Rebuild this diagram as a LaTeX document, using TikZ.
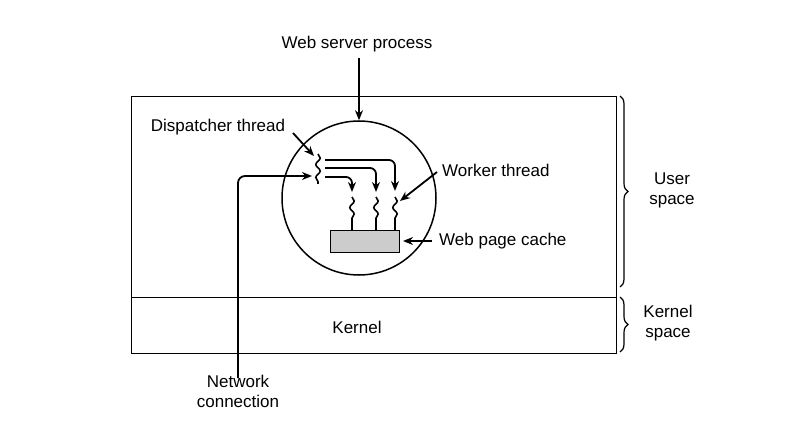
\documentclass[tikz,border=0pt]{standalone}
\usepackage{fontspec}
\setmainfont{Liberation Sans}
\usetikzlibrary{arrows.meta,decorations.pathmorphing,decorations.pathreplacing}
\begin{document}
\begin{tikzpicture}[x=1pt,y=-1pt,
  lbl/.style={font=\fontsize{17}{20}\selectfont,inner sep=0pt},
  arr/.style={line width=1.8pt,-{Stealth[length=10pt,width=8pt]}},
  thr/.style={line width=1.6pt,decorate,decoration={snake,segment length=13pt,amplitude=2.2pt}},
  box/.style={draw,line width=1.4pt},
  brc/.style={line width=1.2pt,decorate,decoration={brace,amplitude=8pt}}]
\useasboundingbox (0,0) rectangle (804,433);
% boxes
\node[box,minimum width=485pt,minimum height=201pt,inner sep=0pt,anchor=north west] (user) at (131,96) {};
\node[box,minimum width=485pt,minimum height=56pt,inner sep=0pt,anchor=north west] (kern) at (131,297) {};
\node[lbl] (kernel) at (357,327) {Kernel};
% process circle
\node[draw,circle,line width=1.5pt,minimum size=154pt,inner sep=0pt] (proc) at (359,198) {};
\node[lbl] (wsp) at (357,44) {Web server process};
\coordinate (wsptop) at (359,58);
\draw[arr] (wsptop) -- (proc.north);
% cache
\node[draw,fill=black!20,line width=1.4pt,minimum width=69pt,minimum height=22pt,inner sep=0pt,anchor=north west] (cache) at (330,230) {};
\node[lbl,anchor=west] (cachelbl) at (439,241) {Web page cache};
\coordinate (cas) at (432,241);
\coordinate (cae) at (403,241);
\draw[arr] (cas) -- (cae);
% threads
\coordinate (dtop) at (318,154);
\coordinate (dbot) at (318,184);
\draw[thr] (dtop) -- (dbot);
\coordinate (w1t) at (352,197); \coordinate (w1m) at (352,223); \coordinate (w1b) at (352,230);
\coordinate (w2t) at (376,197); \coordinate (w2m) at (376,223); \coordinate (w2b) at (376,230);
\coordinate (w3t) at (395,197); \coordinate (w3m) at (395,223); \coordinate (w3b) at (395,230);
\draw[thr] (w1t) -- (w1m);
\draw[line width=1.6pt] (w1m) -- (w1b);
\draw[thr] (w2t) -- (w2m);
\draw[line width=1.6pt] (w2m) -- (w2b);
\draw[thr] (w3t) -- (w3m);
\draw[line width=1.6pt] (w3m) -- (w3b);
% dispatch arrows
\coordinate (d1) at (325,160); \coordinate (d2) at (325,168); \coordinate (d3) at (325,177);
\coordinate (e1) at (395,191); \coordinate (e2) at (376,192); \coordinate (e3) at (352,192);
\draw[arr,rounded corners=6pt] (d1) -| (e1);
\draw[arr,rounded corners=6pt] (d2) -| (e2);
\draw[arr,rounded corners=6pt] (d3) -| (e3);
% network
\node[lbl,align=center] (net) at (238,391) {Network\\connection};
\coordinate (netbot) at (238,378);
\coordinate (nete) at (312,176);
\draw[arr,rounded corners=7pt] (netbot) |- (nete);
% labels
\node[lbl] (disp) at (218,127) {Dispatcher thread};
\coordinate (das) at (293,133); \coordinate (dae) at (314,156);
\draw[arr] (das) -- (dae);
\node[lbl,anchor=west] (work) at (442,170) {Worker thread};
\coordinate (was) at (437,172); \coordinate (wae) at (400,201);
\draw[arr] (was) -- (wae);
% braces
\draw[brc] (620,96) -- (620,287);
\draw[brc] (620,297) -- (620,352);
\node[lbl,align=center] (us) at (672,190) {User\\space};
\node[lbl,align=center] (ks) at (668,323) {Kernel\\space};
\end{tikzpicture}
\end{document}
